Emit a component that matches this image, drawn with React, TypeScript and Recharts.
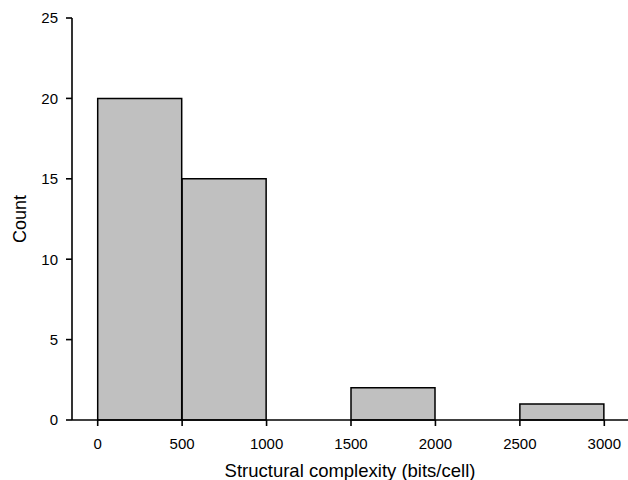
import { BarChart, Bar, XAxis, YAxis, Label } from "recharts";

const binStarts = [0, 500, 1000, 1500, 2000, 2500];
const binCounts = [20, 15, 0, 2, 0, 1];
const xTicks = [0, 500, 1000, 1500, 2000, 2500, 3000];
const yTicks = [0, 5, 10, 15, 20, 25];

const data = binStarts.map((start, i) => ({
  bin: `${start}-${start + 500}`,
  start,
  count: binCounts[i],
}));

const FONT = "'Liberation Sans', Arial, sans-serif";
const tickStyle = { fill: "#000", fontSize: 15, fontFamily: FONT };
const axisLine = { stroke: "#000", strokeWidth: 1.6 };
const xPad = { left: 25.7, right: 23.7 };

export default function App() {
  return (
    <div style={{ position: "absolute", left: 0, top: 0, background: "#fff" }}>
      <BarChart
        width={628}
        height={480}
        data={data}
        margin={{ top: 18, right: 0, bottom: 30, left: 12 }}
        barCategoryGap={0}
      >
        <XAxis xAxisId="bins" dataKey="bin" hide height={0} padding={xPad} />
        <XAxis
          xAxisId="num"
          dataKey="start"
          type="number"
          scale="linear"
          domain={[0, 3000]}
          ticks={xTicks}
          interval={0}
          allowDataOverflow
          padding={xPad}
          height={30}
          tick={tickStyle}
          tickSize={6}
          tickMargin={12}
          axisLine={axisLine}
          tickLine={axisLine}
        >
          <Label
            value="Structural complexity (bits/cell)"
            position="bottom"
            offset={14}
            style={{ fill: "#000", fontSize: 18.5, fontFamily: FONT }}
          />
        </XAxis>
        <YAxis
          width={60}
          domain={[0, 25]}
          ticks={yTicks}
          interval={0}
          tick={tickStyle}
          tickSize={6}
          tickMargin={8}
          axisLine={axisLine}
          tickLine={axisLine}
        >
          <Label
            value="Count"
            angle={-90}
            position="insideLeft"
            offset={8}
            style={{ fill: "#000", fontSize: 18, fontFamily: FONT, textAnchor: "middle" }}
          />
        </YAxis>
        <Bar
          xAxisId="bins"
          dataKey="count"
          fill="#c0c0c0"
          stroke="#000"
          strokeWidth={1.5}
          isAnimationActive={false}
        />
      </BarChart>
    </div>
  );
}
